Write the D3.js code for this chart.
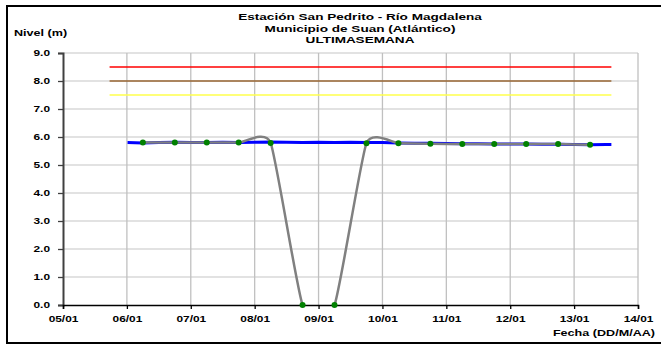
<!DOCTYPE html>
<html><head><meta charset="utf-8">
<script src="https://cdn.jsdelivr.net/npm/d3@7"></script>
<style>body{margin:0;background:#fff}svg{display:block}text{font-family:"Liberation Sans",Arial,sans-serif;font-weight:bold;fill:#000}</style>
</head><body>
<script>
const titleLines = ["Estación San Pedrito - Río Magdalena", "Municipio de Suan (Atlántico)", "ULTIMA SEMANA"];
const yLabel = "Nivel (m)";
const xLabel = "Fecha (DD/M/AA)";
const yTicks = [0,1,2,3,4,5,6,7,8,9];
const xTickDates = ["2010-01-05","2010-01-06","2010-01-07","2010-01-08","2010-01-09","2010-01-10","2010-01-11","2010-01-12","2010-01-13","2010-01-14"];
// threshold levels
const thresholdStart = "2010-01-05T17:30";
const thresholdEnd = "2010-01-13T14:00";
const thresholdValues = [8.5, 8.0, 7.5];
const thresholdColors = ["#ff0000", "#996633", "#ffff4d"];
// telemetry (blue) series
const blueTimes = ["2010-01-06T00:15","2010-01-06T06:00","2010-01-06T12:00","2010-01-06T18:00","2010-01-07T00:00","2010-01-07T06:00","2010-01-07T12:00","2010-01-07T18:00","2010-01-08T00:00","2010-01-08T06:00","2010-01-08T12:00","2010-01-08T18:00","2010-01-09T00:00","2010-01-09T06:00","2010-01-09T12:00","2010-01-09T18:00","2010-01-10T00:00","2010-01-10T06:00","2010-01-10T12:00","2010-01-10T18:00","2010-01-11T00:00","2010-01-11T06:00","2010-01-11T12:00","2010-01-11T18:00","2010-01-12T00:00","2010-01-12T06:00","2010-01-12T12:00","2010-01-12T18:00","2010-01-13T00:00","2010-01-13T06:00","2010-01-13T12:00","2010-01-13T14:00"];
const blueValues = [5.80,5.79,5.80,5.81,5.80,5.80,5.81,5.80,5.81,5.82,5.81,5.80,5.81,5.80,5.81,5.80,5.80,5.79,5.78,5.78,5.77,5.76,5.76,5.75,5.75,5.75,5.74,5.74,5.73,5.72,5.73,5.73];
// manual readings (green points, gray smoothed line)
const pointTimes = ["2010-01-06T06:00","2010-01-06T18:00","2010-01-07T06:00","2010-01-07T18:00","2010-01-08T06:00","2010-01-08T18:00","2010-01-09T06:00","2010-01-09T18:00","2010-01-10T06:00","2010-01-10T18:00","2010-01-11T06:00","2010-01-11T18:00","2010-01-12T06:00","2010-01-12T18:00","2010-01-13T06:00"];
const pointValues = [5.80,5.80,5.80,5.80,5.79,0,0,5.78,5.78,5.76,5.75,5.75,5.75,5.75,5.72];

const W=661,H=345;
const SX=1.4; // horizontal text stretch seen in the reference
const svg=d3.select("body").append("svg").attr("width",W).attr("height",H);
const parse=s=>new Date(s);
const x=d3.scaleTime().domain([parse(xTickDates[0]),parse(xTickDates[xTickDates.length-1])]).range([63,638]);
const y=d3.scaleLinear().domain([0,9]).range([305,53]);
const fmt=d3.timeFormat("%d/%m");

// outer border
svg.append("rect").attr("x",7).attr("y",6).attr("width",W+10).attr("height",337).attr("fill","none").attr("stroke","#000").attr("stroke-width",2);

// gridlines
svg.append("g").selectAll("line").data(yTicks.slice(1)).join("line")
 .attr("x1",63).attr("x2",638).attr("y1",d=>y(d)).attr("y2",d=>y(d)).attr("stroke","#d9d9d9").attr("stroke-width",1.3);
svg.append("g").selectAll("line").data(xTickDates.slice(1)).join("line")
 .attr("x1",d=>x(parse(d))).attr("x2",d=>x(parse(d))).attr("y1",y(9)).attr("y2",y(0)).attr("stroke","#c0c0c0").attr("stroke-width",1.3);

// axes
const yAxis=d3.axisLeft(y).tickValues(yTicks).tickFormat(d3.format(".1f")).tickSize(5);
const gy=svg.append("g").attr("transform","translate(63,0)").call(yAxis);
gy.select(".domain").attr("stroke","#404040").attr("stroke-width",2);
gy.selectAll(".tick line").attr("stroke","#404040").attr("stroke-width",1.3);
gy.selectAll("text").style("font-size","8.5px").attr("x",-13/SX).attr("dy","0.35em").attr("transform",`scale(${SX},1)`);
const xAxis=d3.axisBottom(x).tickValues(xTickDates.map(parse)).tickFormat(fmt).tickSize(4).tickPadding(7);
const gx=svg.append("g").attr("transform",`translate(0,${y(0)})`).call(xAxis);
gx.select(".domain").attr("stroke","#000").attr("stroke-width",1.5);
gx.selectAll(".tick line").attr("stroke","#000").attr("stroke-width",1.3);
gx.selectAll("text").style("font-size","8.5px").attr("transform",`scale(${SX},1)`);

svg.append("clipPath").attr("id","pc").append("rect").attr("x",63).attr("y",y(9)).attr("width",575).attr("height",y(0)-y(9));
const plot=svg.append("g").attr("clip-path","url(#pc)");

// thresholds
plot.selectAll("line.th").data(thresholdValues).join("line").attr("class","th")
 .attr("x1",x(parse(thresholdStart))).attr("x2",x(parse(thresholdEnd)))
 .attr("y1",d=>y(d)).attr("y2",d=>y(d)).attr("stroke",(d,i)=>thresholdColors[i]).attr("stroke-width",1.5);

// blue series
const blueData=blueTimes.map((t,i)=>[parse(t),blueValues[i]]);
plot.append("path").datum(blueData).attr("fill","none").attr("stroke","#0000ff").attr("stroke-width",3)
 .attr("d",d3.line().x(d=>x(d[0])).y(d=>y(d[1])));

// gray smoothed manual readings
const pts=pointTimes.map((t,i)=>[parse(t),pointValues[i]]);
plot.append("path").datum(pts).attr("fill","none").attr("stroke","#808080").attr("stroke-width",2.5)
 .attr("d",d3.line().x(d=>x(d[0])).y(d=>y(d[1])).curve(d3.curveCardinal.tension(0.5)));
svg.append("g").selectAll("circle").data(pts).join("circle")
 .attr("cx",d=>x(d[0])).attr("cy",d=>y(d[1])).attr("r",3).attr("fill","#008000");

// titles
const st=(sel,px,py,anchor)=>sel.attr("x",0).attr("y",0).attr("text-anchor",anchor).attr("transform",`translate(${px},${py}) scale(${SX},1)`);
titleLines.forEach((t,i)=>{
  const tx=st(svg.append("text"),360,20+i*11.5,"middle").style("font-size","9.7px").text(t);
  if(i===2) tx.style("word-spacing","-2.5px");
});
st(svg.append("text"),14,36,"start").style("font-size","9px").text(yLabel);
st(svg.append("text"),655,336,"end").style("font-size","9px").text(xLabel);
</script>
</body></html>
